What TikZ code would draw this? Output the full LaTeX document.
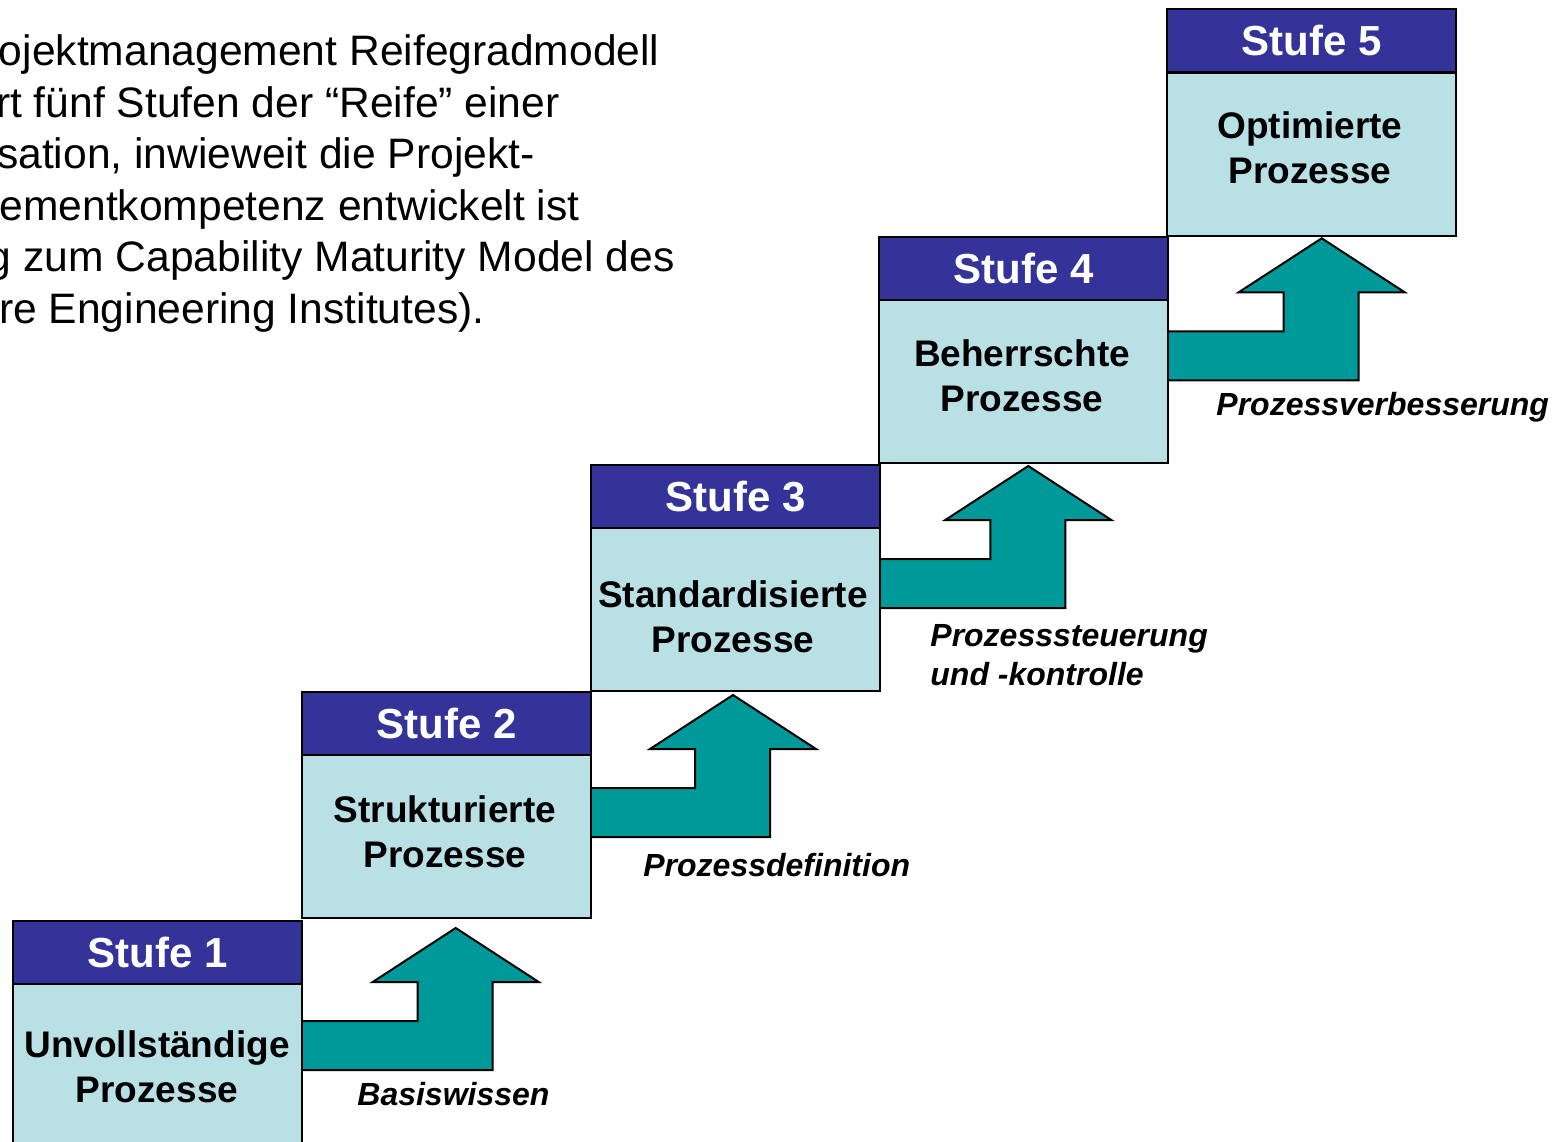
\documentclass[tikz,border=0pt]{standalone}
\usepackage{fontspec}
\setmainfont{Liberation Sans}
\definecolor{hdr}{RGB}{51,51,153}
\definecolor{bodyc}{RGB}{185,224,228}
\definecolor{tealc}{RGB}{0,153,153}
\newcommand\stairarrow[3]{%
  \draw[stair] (#1,{#3+93}) -- ({#2-38},{#3+93}) -- ({#2-38},{#3+54}) -- ({#2-83},{#3+54})
    -- (#2,#3) -- ({#2+83},{#3+54}) -- ({#2+37},{#3+54}) -- ({#2+37},{#3+142}) -- (#1,{#3+142}) -- cycle;}
\begin{document}
\begin{tikzpicture}[x=0.5pt,y=-0.5pt,
  hdrbox/.style={draw=black, line width=1.2pt, fill=hdr, text=white,
    font=\bfseries\fontsize{21}{25}\selectfont, minimum width=144.5pt,
    minimum height=31.5pt, inner sep=0pt, anchor=north west},
  bodybox/.style={draw=black, line width=1.2pt, fill=bodyc, minimum width=144.5pt,
    minimum height=81.5pt, inner sep=0pt, anchor=north west},
  bodytext/.style={font=\bfseries\fontsize{18.5}{22.5}\selectfont, align=center, inner sep=0pt},
  lbl/.style={font=\bfseries\itshape\fontsize{16}{19.5}\selectfont, align=left, inner sep=0pt, anchor=west},
  intro/.style={font=\fontsize{21.3}{25}\selectfont, inner sep=0pt, anchor=base east},
  stair/.style={draw=black, line width=1pt, fill=tealc, line join=miter}]
\useasboundingbox (0,0) rectangle (1555,1142);
\fill[white] (0,0) rectangle (1555,1142);
\clip (0,0) rectangle (1555,1142);

% intro text (cut at the left edge)
\node[intro] (t1) at (660,65.5) {ojektmanagement Reifegradmodell};
\node[intro] (t2) at (560,117) {rt fünf Stufen der “Reife” einer};
\node[intro] (t3) at (535,168.5) {sation, inwieweit die Projekt-};
\node[intro] (t4) at (580,220) {ementkompetenz entwickelt ist};
\node[intro] (t5) at (675,271.5) {g zum Capability Maturity Model des};
\node[intro] (t6) at (485,323) {re Engineering Institutes).};

% arrows between levels
\stairarrow{301}{455.7}{928}
\stairarrow{590}{733}{695}
\stairarrow{878}{1028.3}{466}
\stairarrow{1166}{1321.7}{238.3}

% level boxes
\node[bodybox] (b1) at (12,983) {};
\node[hdrbox] (h1) at (12,920) {Stufe 1};
\node[bodybox] (b2) at (301,754) {};
\node[hdrbox] (h2) at (301,691) {Stufe 2};
\node[bodybox] (b3) at (590,527) {};
\node[hdrbox] (h3) at (590,464) {Stufe 3};
\node[bodybox] (b4) at (878,299) {};
\node[hdrbox] (h4) at (878,236) {Stufe 4};
\node[bodybox] (b5) at (1166,72) {};
\node[hdrbox] (h5) at (1166,8) {Stufe 5};

\node[bodytext] (bt1) at (157,1067) {Unvollständige\\Prozesse};
\node[bodytext] (bt2) at (445,832) {Strukturierte\\Prozesse};
\node[bodytext] (bt3) at (733,617) {Standardisierte\\Prozesse};
\node[bodytext] (bt4) at (1022,376) {Beherrschte\\Prozesse};
\node[bodytext] (bt5) at (1310,148) {Optimierte\\Prozesse};

% arrow labels
\node[lbl] (l1) at (357,1094) {Basiswissen};
\node[lbl] (l2) at (643,865) {Prozessdefinition};
\node[lbl] (l3) at (930,655.5) {Prozesssteuerung\\und -kontrolle};
\node[lbl] (l4) at (1216,407) {Prozessverbesserung};
\end{tikzpicture}
\end{document}
